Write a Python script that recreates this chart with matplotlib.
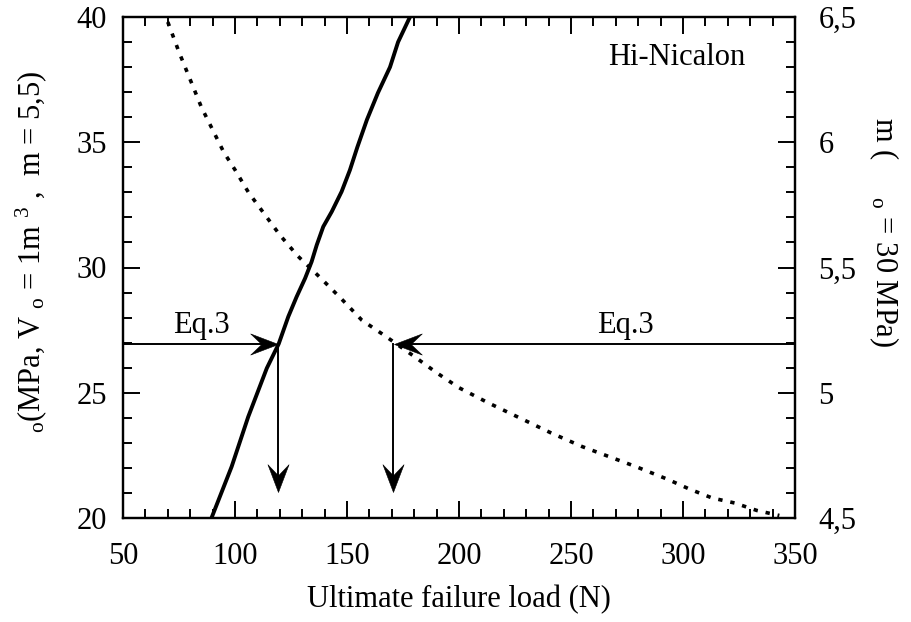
import numpy as np
import matplotlib
matplotlib.use("Agg")
import matplotlib.pyplot as plt
from matplotlib.path import Path

plt.rcParams['font.family'] = ['Liberation Serif', 'DejaVu Serif']
plt.rcParams['mathtext.fontset'] = 'custom'
plt.rcParams['mathtext.rm'] = 'Liberation Serif'
plt.rcParams['mathtext.it'] = 'Liberation Serif:italic'

# ---- data ----
solid_load = [89.5, 98.5, 105.9, 114.2, 119.5, 123.8, 127.5, 131.3, 134.2, 136.5, 139.4, 143.2, 147.6, 151.3, 154.6, 158.9, 163.8, 169.2, 172.8, 178.1]
solid_sigma = [20.0, 22.05, 24.04, 25.98, 26.95, 28.04, 28.83, 29.57, 30.23, 30.9, 31.63, 32.23, 33.03, 33.89, 34.8, 35.9, 36.97, 38.0, 39.0, 40.0]

dot_load = [70, 75, 80, 85, 90, 95, 100, 106, 113, 120, 128, 138, 147.6, 156.6, 167, 180, 190, 200, 213, 227, 241, 255, 267, 279, 293, 303, 313, 323, 333, 343]
dot_m = [6.48, 6.36, 6.25, 6.14, 6.05, 5.96, 5.89, 5.80, 5.715, 5.63, 5.546, 5.46, 5.374, 5.29, 5.227, 5.145, 5.08, 5.02, 4.96, 4.90, 4.84, 4.785, 4.745, 4.705, 4.655, 4.615, 4.58, 4.56, 4.53, 4.51]

eq_sigma = 26.93
eq_load_solid = 119.2
eq_load_dot = 171.0
arrow_bottom = 21.05

x_ticks = [50, 100, 150, 200, 250, 300, 350]
x_ticklabels = ["50", "100", "150", "200", "250", "300", "350"]
yl_ticks = [20, 25, 30, 35, 40]
yl_ticklabels = ["20", "25", "30", "35", "40"]
yr_ticks = [4.5, 5.0, 5.5, 6.0, 6.5]
yr_ticklabels = ["4,5", "5", "5,5", "6", "6,5"]

FS = 22

fig = plt.figure(figsize=(9.11, 6.22), dpi=100)
ax = fig.add_axes([123/911, (622-518)/622, 672/911, 501/622])
ax2 = ax.twinx()

ax.set_xlim(50, 350)
ax.set_ylim(20, 40)
ax2.set_ylim(4.5, 6.5)

ax.plot(solid_load, solid_sigma, color='k', lw=2.8, solid_capstyle='butt', zorder=3)
ax2.plot(dot_load, dot_m, color='k', lw=2.6, linestyle=(0, (1.2, 2.2)), zorder=3)

CODES = [Path.MOVETO, Path.LINETO, Path.LINETO, Path.LINETO, Path.CLOSEPOLY]

def head(direction):
    v = np.array([(0, 0), (-1, 0.38), (-0.6, 0), (-1, -0.38), (0, 0)], dtype=float)
    if direction == 'left':
        v[:, 0] *= -1
    elif direction == 'down':
        v = np.column_stack([v[:, 1], -v[:, 0]])
    return Path(v, CODES)

alw = 1.4
ms = 40
ax.plot([50, eq_load_solid - 3], [eq_sigma, eq_sigma], color='k', lw=alw, zorder=4)
ax.plot([eq_load_solid], [eq_sigma], marker=head('right'), ms=ms, color='k', mew=0.4, zorder=5)
ax.plot([350, eq_load_dot + 3], [eq_sigma, eq_sigma], color='k', lw=alw, zorder=4)
ax.plot([eq_load_dot], [eq_sigma], marker=head('left'), ms=ms, color='k', mew=0.4, zorder=5)
for xv in (eq_load_solid, eq_load_dot - 0.5):
    ax.plot([xv, xv], [eq_sigma, arrow_bottom + 0.5], color='k', lw=alw, zorder=4)
    ax.plot([xv], [arrow_bottom], marker=head('down'), ms=ms, color='k', mew=0.4, zorder=5)

ax.text(84.8, 27.39, "Eq.3", fontsize=FS, ha='center', va='baseline')
ax.text(274.5, 27.39, "Eq.3", fontsize=FS, ha='center', va='baseline')
ax.text(328, 38.1, "Hi-Nicalon", fontsize=FS, ha='right', va='baseline')

ax.set_xticks(x_ticks)
ax.set_xticklabels(x_ticklabels)
ax.set_xticks(np.arange(50, 351, 10), minor=True)
ax.set_yticks(yl_ticks)
ax.set_yticklabels(yl_ticklabels)
ax.set_yticks(np.arange(20, 40.1, 1), minor=True)
ax2.set_yticks(yr_ticks)
ax2.set_yticklabels(yr_ticklabels)
ax2.set_yticks(np.arange(4.5, 6.51, 0.1), minor=True)

ax.tick_params(which='both', direction='in', top=True, right=False, width=1.4, labelsize=FS)
ax.tick_params(which='major', length=12)
ax.tick_params(which='minor', length=6.5)
ax.tick_params(axis='y', which='major', pad=11.5)
ax.tick_params(axis='x', which='major', pad=17)
ax2.tick_params(which='both', direction='in', width=1.4, labelsize=FS)
ax2.tick_params(which='major', length=12, pad=17)
ax2.tick_params(which='minor', length=6.5)

for a in (ax, ax2):
    for s in a.spines.values():
        s.set_linewidth(1.6)

ax.set_xlabel("Ultimate failure load (N)", fontsize=FS, labelpad=10)

fig.text(31/911, 1 - 252/622, r"${}_{\mathrm{o}}$(MPa, V ${}_{\mathrm{o}}$ = 1m ${}^{3}$ ,  m = 5,5)",
         rotation=90, ha='center', va='center', fontsize=FS)
fig.text(884/911, 1 - 232/622, r"m (     ${}_{\mathrm{o}}$ = 30 MPa)",
         rotation=270, ha='center', va='center', fontsize=FS)

fig.savefig("out.png", dpi=100)
